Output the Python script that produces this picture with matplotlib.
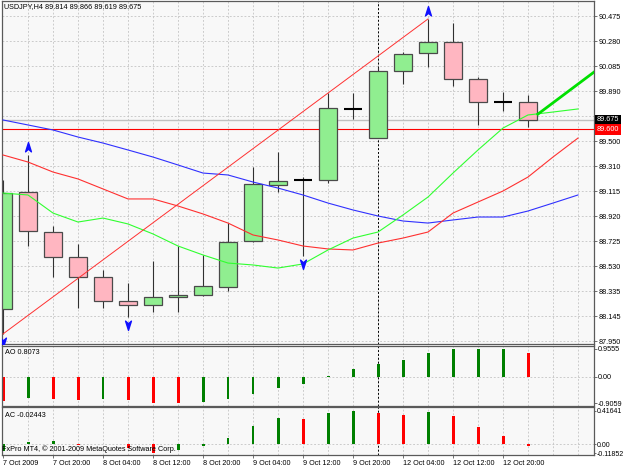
import matplotlib
matplotlib.use("Agg")
import matplotlib.pyplot as plt
from matplotlib.path import Path
import numpy as np

plt.rcParams['font.family'] = ['Liberation Sans', 'DejaVu Sans']

# ---------------- data ----------------
title_text = "USDJPY,H4 89.814 89.866 89.619 89.675"
ao_title = "AO 0.8073"
ac_title = "AC -0.02443"
copyright_text = "FxPro MT4, \u00a9 2001-2009 MetaQuotes Software Corp."

time_labels = ["7 Oct 2009", "7 Oct 20:00", "8 Oct 04:00", "8 Oct 12:00", "8 Oct 20:00",
               "9 Oct 04:00", "9 Oct 12:00", "9 Oct 20:00", "12 Oct 04:00", "12 Oct 12:00",
               "12 Oct 20:00"]
time_label_bars = [0, 2, 4, 6, 8, 10, 12, 14, 16, 18, 20]

opens = [88.200, 89.112, 88.803, 88.608, 88.449, 88.260, 88.231, 88.293, 88.309, 88.374,
         88.728, 89.169, 89.204, 89.204, 89.760, 89.533, 90.054, 90.194, 90.285, 89.991,
         89.817, 89.814]
highs = [89.206, 89.401, 88.847, 88.707, 88.502, 88.402, 88.574, 88.693, 88.619, 88.868,
         89.307, 89.427, 89.229, 89.887, 89.882, 90.090, 90.207, 90.462, 90.428, 90.007,
         89.895, 89.866]
lows = [88.005, 88.691, 88.452, 88.210, 88.205, 88.135, 88.176, 88.176, 88.299, 88.342,
        88.725, 89.110, 88.613, 89.180, 89.682, 89.531, 89.952, 90.090, 89.939, 89.635,
        89.744, 89.619]
closes = [89.108, 88.808, 88.608, 88.449, 88.260, 88.228, 88.296, 88.311, 88.377, 88.725,
          89.177, 89.200, 89.204, 89.765, 89.760, 90.054, 90.189, 90.285, 89.991, 89.812,
          89.817, 89.675]

# Alligator lines (shifted forward, so they run two bars past the last candle)
jaw = [89.674, 89.635, 89.596, 89.541, 89.494, 89.440, 89.385, 89.323, 89.260, 89.245,
       89.190, 89.143, 89.089, 89.026, 88.972, 88.925, 88.886, 88.870, 88.894, 88.917,
       88.917, 88.964, 89.026, 89.089]
teeth = [89.401, 89.346, 89.268, 89.214, 89.136, 89.058, 89.058, 89.003, 88.941, 88.870,
         88.777, 88.738, 88.691, 88.668, 88.660, 88.714, 88.753, 88.800, 88.948, 89.034,
         89.120, 89.229, 89.385, 89.533]
lips = [89.104, 89.089, 88.948, 88.878, 88.909, 88.863, 88.785, 88.691, 88.621, 88.558,
        88.543, 88.519, 88.551, 88.660, 88.753, 88.800, 88.933, 89.073, 89.260, 89.440,
        89.611, 89.713, 89.736, 89.760]

fractal_up_bars = [1, 17]
fractal_down_bars = [0, 5, 12]

trend_bars = [0, 17]                      # red trendline: low of bar 0 -> high of bar 17
green_trend_x = [21.35, 24.0]
green_trend_y = [89.713, 90.100]

level_price = 89.600
period_separator_bar = 15

price_ticks = [87.950, 88.145, 88.340, 88.535, 88.730, 88.925, 89.120, 89.315, 89.510,
               89.705, 89.900, 90.095, 90.290, 90.485]
# the 89.695 label is hidden under the bid-price box in the reference
price_tick_labels = ["87.950", "88.145", "88.335", "88.530", "88.725", "88.920", "89.115",
                     "89.310", "89.500", "", "89.890", "90.085", "90.280", "90.475"]

ao = [-0.83, -0.74, -0.75, -0.79, -0.77, -0.80, -0.88, -0.9059, -0.85, -0.77, -0.58,
      -0.37, -0.24, 0.03, 0.26, 0.43, 0.56, 0.82, 0.94, 0.95, 0.9555, 0.8073]
ao_ticks = [0.9555, 0.0, -0.9059]
ao_tick_labels = ["0.9555", "0.00", "-0.9059"]

ac = [-0.084, 0.029, 0.032, -0.012, -0.005, -0.054, -0.11852, -0.075, -0.025, 0.079,
      0.225, 0.321, 0.318, 0.384, 0.41641, 0.384, 0.359, 0.400, 0.350, 0.209, 0.104,
      -0.02443]
ac_ticks = [0.41641, 0.0, -0.11852]
ac_tick_labels = ["0.41641", "0.00", "-0.11852"]

# ---------------- layout ----------------
W, H = 625, 469
fig = plt.figure(figsize=(W / 100, H / 100), dpi=100)
fig.patch.set_facecolor("white")

LEFT, RIGHT = 2, 594
BAR0_PX, BAR_STEP = 3, 25
xlim = ((LEFT - BAR0_PX) / BAR_STEP, (RIGHT - BAR0_PX) / BAR_STEP)


def panel(top, bottom):
    return fig.add_axes([LEFT / W, 1 - bottom / H, (RIGHT - LEFT) / W, (bottom - top) / H])


ax = panel(1, 343.5)
ax_ao = panel(345.5, 405.5)
ax_ac = panel(407.3, 455)

BG = "#f8f8f8"
GRID = "#c4c4c4"
SPINE = "#5a5a5a"
FS = 5.2
n_bars = len(closes)
n_lines = len(jaw)

for a in (ax, ax_ao, ax_ac):
    a.set_facecolor(BG)
    a.set_xlim(*xlim)
    for s in a.spines.values():
        s.set_color(SPINE)
        s.set_linewidth(0.9)
    for i in range(1, n_lines):
        a.axvline(i, color=GRID, lw=0.6, ls=(0, (2.2, 2.2)), zorder=0)
    a.axvline(period_separator_bar, color="black", lw=0.7, ls=(0, (2, 2)), zorder=1)
    a.yaxis.tick_right()
    a.tick_params(axis="y", which="both", right=True, left=False, labelright=True,
                  labelleft=False, length=2, width=0.6, pad=1.0, labelsize=FS,
                  colors="black", color=SPINE)
    a.tick_params(axis="x", bottom=False, labelbottom=False)

# ---- main price panel ----
PX = 0.0078
ax.set_ylim(87.95 - (343.5 - 341) * PX, 87.95 + (341 - 1) * PX)
ax.set_yticks(price_ticks)
ax.set_yticklabels(price_tick_labels)
for p in price_ticks:
    ax.axhline(p, color=GRID, lw=0.6, ls=(0, (2.2, 2.2)), zorder=0)

body_w = 0.72
for i in range(n_bars):
    o, h, l, c = opens[i], highs[i], lows[i], closes[i]
    ax.vlines(i, l, h, color="#303030", lw=0.8, zorder=2)
    if abs(c - o) < 0.004:
        ax.hlines(o, i - body_w / 2, i + body_w / 2, color="black", lw=1.5, zorder=2.5)
    else:
        col = "#90ee90" if c > o else "#ffb6c1"
        ax.bar(i, c - o, bottom=o, width=body_w, color=col, edgecolor="#4a4a4a",
               lw=0.9, zorder=2.2)

xs = np.arange(n_lines)
ax.plot(xs, jaw, color="#3030ff", lw=0.8, zorder=3)
ax.plot(xs, teeth, color="#ff3030", lw=0.8, zorder=3)
ax.plot(xs, lips, color="#30ff30", lw=0.8, zorder=3)

ax.plot(trend_bars, [lows[trend_bars[0]], highs[trend_bars[1]]], color="#ff3030",
        lw=0.7, zorder=3)
ax.plot(green_trend_x, green_trend_y, color="#00e000", lw=2.0, zorder=3,
        solid_capstyle="butt")

ax.axhline(level_price, color="#ff0000", lw=0.8, zorder=1.5)
ax.axhline(closes[-1], color="#c0c0c0", lw=1.0, zorder=1.4)

up_arrow = Path([(0, 1), (0.6, -0.9), (0, -0.35), (-0.6, -0.9), (0, 1)],
                [Path.MOVETO, Path.LINETO, Path.LINETO, Path.LINETO, Path.CLOSEPOLY])
down_arrow = Path([(0, -1), (0.6, 0.9), (0, 0.35), (-0.6, 0.9), (0, -1)],
                  [Path.MOVETO, Path.LINETO, Path.LINETO, Path.LINETO, Path.CLOSEPOLY])
off = 8 * PX
ax.plot(fractal_up_bars, [highs[b] + off for b in fractal_up_bars], ls="none",
        marker=up_arrow, ms=7, color="#1010ff", zorder=4)
ax.plot(fractal_down_bars, [lows[b] - off for b in fractal_down_bars], ls="none",
        marker=down_arrow, ms=7, color="#1010ff", zorder=4)

ytr = ax.get_yaxis_transform()
ax.text(1.004, closes[-1], "89.675", transform=ytr, ha="left", va="center", fontsize=FS,
        color="white", bbox=dict(boxstyle="square,pad=0.25", fc="black", ec="none"),
        clip_on=False, zorder=10)
ax.text(1.004, level_price, "89.600", transform=ytr, ha="left", va="center", fontsize=FS,
        color="white", bbox=dict(boxstyle="square,pad=0.25", fc="#ff0000", ec="none"),
        clip_on=False, zorder=10)

# ---- AO panel ----
AO_PX = 0.034
ax_ao.set_ylim(-(405.5 - 376.7) * AO_PX, (376.7 - 345.5) * AO_PX)
ax_ao.axhline(0, color=GRID, lw=0.6, ls=(0, (2.2, 2.2)), zorder=0)
ao_cols = ["#ff0000"] + ["#008000" if ao[i] > ao[i - 1] else "#ff0000" for i in range(1, len(ao))]
ax_ao.bar(np.arange(len(ao)), ao, width=0.12, color=ao_cols, zorder=2)
ax_ao.set_yticks(ao_ticks)
ax_ao.set_yticklabels(ao_tick_labels)

# ---- AC panel ----
AC_PX = 0.0125
ax_ac.set_ylim(-(455 - 444) * AC_PX, (444 - 407.3) * AC_PX)
ax_ac.axhline(0, color=GRID, lw=0.6, ls=(0, (2.2, 2.2)), zorder=0)
ac_cols = ["#008000"] + ["#008000" if ac[i] > ac[i - 1] else "#ff0000" for i in range(1, len(ac))]
ax_ac.bar(np.arange(len(ac)), ac, width=0.12, color=ac_cols, zorder=2)
ax_ac.set_yticks(ac_ticks)
ax_ac.set_yticklabels(ac_tick_labels)
ax_ac.tick_params(axis="y", length=1.5, pad=0.6, labelsize=5.0)

ax_ac.set_xticks(time_label_bars)
ax_ac.set_xticklabels(time_labels)
ax_ac.tick_params(axis="x", bottom=True, labelbottom=True, length=2.5, width=0.6,
                  pad=1.2, labelsize=FS, color=SPINE)
for lbl in ax_ac.get_xticklabels():
    lbl.set_ha("left")

# ---- texts ----
fig.text(4 / W, 1 - 3 / H, title_text, ha="left", va="top", fontsize=FS)
fig.text(5 / W, 1 - 349.5 / H, ao_title, ha="left", va="top", fontsize=FS)
fig.text(5 / W, 1 - 411.5 / H, ac_title, ha="left", va="top", fontsize=FS)
fig.text(2 / W, 1 - 445 / H, copyright_text, ha="left", va="top", fontsize=FS, zorder=10)

fig.savefig("out.png", dpi=100, facecolor="white")
